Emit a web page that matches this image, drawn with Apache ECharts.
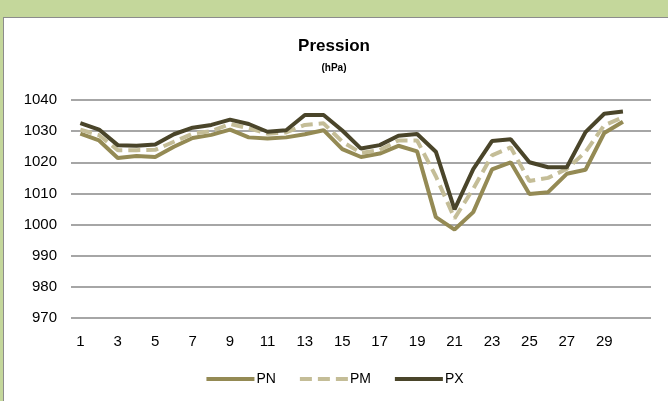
<!DOCTYPE html>
<html>
<head>
<meta charset="utf-8">
<script src="https://cdn.jsdelivr.net/npm/echarts@6/dist/echarts.min.js"></script>
<style>
  html, body { margin: 0; padding: 0; }
  body { width: 668px; height: 401px; background: #c4d79b; position: relative; overflow: hidden; }
  #frame { position: absolute; left: 3px; top: 17px; width: 670px; height: 400px; background: #fff; border: 1px solid #8c8c8c; box-sizing: border-box; }
  #chart { position: absolute; left: 0; top: 0; width: 668px; height: 401px; }
</style>
</head>
<body>
<div id="frame"></div>
<div id="chart"></div>
<script>
// jours du mois (31 catégories, pas de valeur le 31)
var days = [];
for (var d = 1; d <= 31; d++) days.push(String(d));

var pn = [1029.2, 1027, 1021.4, 1022, 1021.7, 1025, 1027.8, 1028.8, 1030.5, 1028,
          1027.6, 1028, 1029, 1030.3, 1024.2, 1021.7, 1022.8, 1025.3, 1023.5, 1002.4,
          998.4, 1004, 1017.7, 1020, 1009.8, 1010.4, 1016.3, 1017.6, 1029.4, 1033];
var pm = [1030.5, 1028.7, 1023.9, 1023.9, 1024, 1026.6, 1029.2, 1030, 1032.3, 1030.9,
          1029.2, 1029.6, 1032, 1032.5, 1026.6, 1023, 1023.9, 1027, 1027, 1015.5,
          1002, 1011.5, 1022.2, 1024.8, 1014, 1015, 1017.9, 1023.3, 1031.9, 1034.4];
var px = [1032.6, 1030.5, 1025.5, 1025.3, 1025.7, 1029, 1031.1, 1032, 1033.7, 1032.3,
          1029.8, 1030.3, 1035.2, 1035.2, 1030.2, 1024.4, 1025.5, 1028.5, 1029.1, 1023.4,
          1004.9, 1017.8, 1026.8, 1027.4, 1020, 1018.4, 1018.4, 1029.7, 1035.6, 1036.3];

var chart = echarts.init(document.getElementById('chart'));
var font = 'Liberation Sans, Arial, sans-serif';

chart.setOption({
  animation: false,
  title: {
    text: 'Pression',
    subtext: '(hPa)',
    left: 'center',
    top: 33,
    itemGap: 8,
    textStyle: { fontFamily: font, fontSize: 17, fontWeight: 'bold', color: '#000' },
    subtextStyle: { fontFamily: font, fontSize: 10, fontWeight: 'bold', color: '#000' }
  },
  legend: {
    bottom: 10,
    left: 'center',
    itemWidth: 48,
    itemHeight: 14,
    itemGap: 22,
    itemStyle: { opacity: 0 },
    lineStyle: { width: 4 },
    textStyle: { fontFamily: font, fontSize: 14, color: '#000', padding: [0, 0, 0, -3] },
    data: ['PN', 'PM', 'PX']
  },
  grid: { left: 71, right: 17, top: 100, bottom: 83 },
  xAxis: {
    type: 'category',
    data: days,
    boundaryGap: true,
    axisLine: { show: false },
    axisTick: { show: false },
    axisLabel: {
      interval: function (i) { return i % 2 === 0 && i < 30; },
      fontFamily: font, fontSize: 15, color: '#000', margin: 16
    }
  },
  yAxis: {
    type: 'value',
    min: 970,
    max: 1040,
    interval: 10,
    axisLine: { show: false },
    axisTick: { show: false },
    axisLabel: {
      formatter: function (v) { return String(v); },
      fontFamily: font, fontSize: 15, color: '#000', margin: 14
    },
    splitLine: { lineStyle: { color: '#a6a6a6', width: 2 } }
  },
  series: [
    {
      name: 'PN', type: 'line', data: pn, symbol: 'none',
      itemStyle: { color: '#948a54' },
      lineStyle: { color: '#948a54', width: 4 }
    },
    {
      name: 'PM', type: 'line', data: pm, symbol: 'none',
      itemStyle: { color: '#c4bd97' },
      lineStyle: { color: '#c4bd97', width: 4, type: [12, 6] }
    },
    {
      name: 'PX', type: 'line', data: px, symbol: 'none',
      itemStyle: { color: '#4a452a' },
      lineStyle: { color: '#4a452a', width: 4 }
    }
  ]
});
</script>
</body>
</html>
